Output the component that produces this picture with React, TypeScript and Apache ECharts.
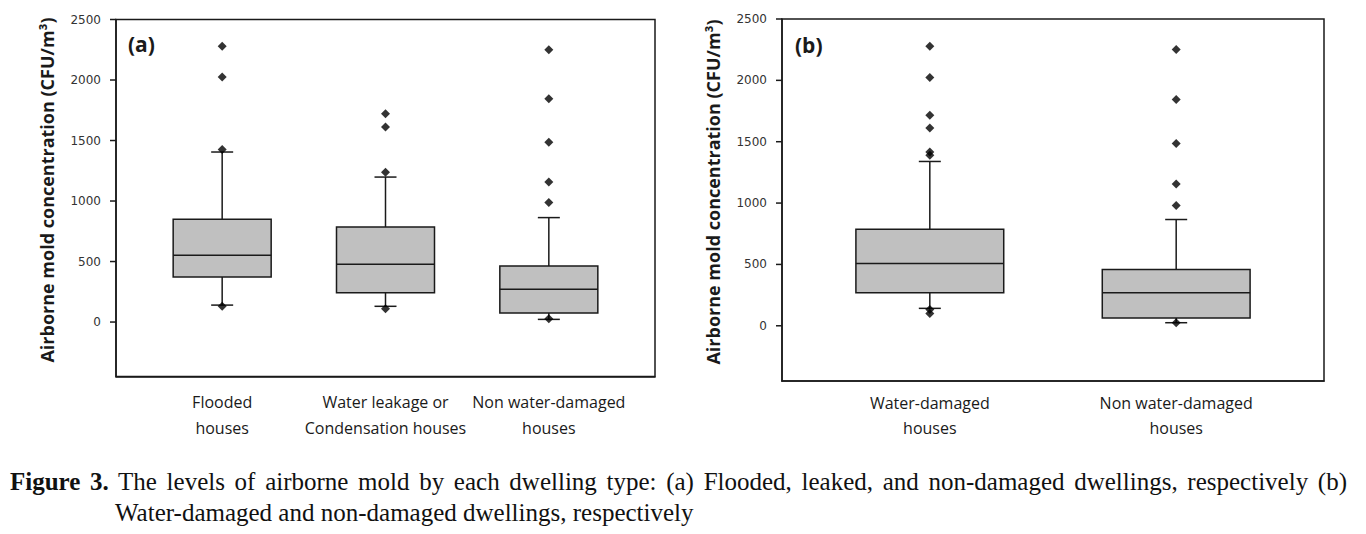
import React, { useEffect, useRef } from "react";
import * as echarts from "echarts";

// ---- Panel (a) ----
const CAT_A = ["Flooded\nhouses", "Water leakage or\nCondensation houses", "Non water-damaged\nhouses"];
const LOW_A = [140, 130, 22];
const Q1_A = [372, 243, 74];
const MED_A = [551, 477, 270];
const Q3_A = [849, 785, 463];
const HIGH_A = [1405, 1198, 863];
const OUT_A = [
  [2278, 2025, 1425, 130],
  [1722, 1612, 1237, 110],
  [2251, 1846, 1485, 1157, 987, 28],
];

// ---- Panel (b) ----
const CAT_B = ["Water-damaged\nhouses", "Non water-damaged\nhouses"];
const LOW_B = [142, 25];
const Q1_B = [269, 63];
const MED_B = [508, 269];
const Q3_B = [787, 459];
const HIGH_B = [1339, 866];
const OUT_B = [
  [2278, 2023, 1716, 1612, 1417, 1390, 133, 101],
  [2251, 1844, 1485, 1156, 980, 25],
];

const Y_TICKS = [0, 500, 1000, 1500, 2000, 2500];
const Y_NAME = "Airborne mold concentration (CFU/m³)";
const CAPTION_BOLD = "Figure 3.";
const CAPTION_TEXT =
  "The levels of airborne mold by each dwelling type: (a) Flooded, leaked, and non-damaged dwellings, respectively (b) Water-damaged and non-damaged dwellings, respectively";

const BOX_W = 0.6;
const CAP_PX = 11;
const TICK_PX = 6;
const INK = "#1a1a1a";

function boxData(lo: number[], q1: number[], md: number[], q3: number[], hi: number[]) {
  return lo.map((_, i) => [i, lo[i], q1[i], md[i], q3[i], hi[i]]);
}
function outData(out: number[][]) {
  const r: number[][] = [];
  out.forEach((vals, i) => vals.forEach((v) => r.push([i, v])));
  return r;
}

const renderBox = (params: any, api: any) => {
  const x = api.value(0);
  const cx = api.coord([x, 0])[0];
  const half = api.coord([x + BOX_W / 2, 0])[0] - cx;
  const yLo = api.coord([x, api.value(1)])[1];
  const yQ1 = api.coord([x, api.value(2)])[1];
  const yMd = api.coord([x, api.value(3)])[1];
  const yQ3 = api.coord([x, api.value(4)])[1];
  const yHi = api.coord([x, api.value(5)])[1];
  const ls = { stroke: INK, lineWidth: 1.5 };
  return {
    type: "group",
    children: [
      { type: "line", shape: { x1: cx, y1: yQ3, x2: cx, y2: yHi }, style: ls },
      { type: "line", shape: { x1: cx - CAP_PX, y1: yHi, x2: cx + CAP_PX, y2: yHi }, style: ls },
      { type: "line", shape: { x1: cx, y1: yQ1, x2: cx, y2: yLo }, style: ls },
      { type: "line", shape: { x1: cx - CAP_PX, y1: yLo, x2: cx + CAP_PX, y2: yLo }, style: ls },
      {
        type: "rect",
        shape: { x: cx - half, y: yQ3, width: half * 2, height: yQ1 - yQ3 },
        style: { fill: "#c0c0c0", stroke: INK, lineWidth: 1.5 },
      },
      { type: "line", shape: { x1: cx - half, y1: yMd, x2: cx + half, y2: yMd }, style: ls },
    ],
  };
};

// y-axis tick marks drawn outside the frame, at the values of Y_TICKS
const renderTick = (params: any, api: any) => {
  const left = params.coordSys.x;
  const y = api.coord([0, api.value(1)])[1];
  return {
    type: "line",
    shape: { x1: left - TICK_PX, y1: y, x2: left, y2: y },
    style: { stroke: INK, lineWidth: 1.5 },
  };
};

function yAxis(gridIndex: number) {
  return {
    type: "value",
    gridIndex,
    min: -450,
    max: 2500,
    name: Y_NAME,
    nameLocation: "middle",
    nameRotate: 90,
    nameGap: 60,
    nameTextStyle: { fontFamily: "Open Sans", fontWeight: "bold", fontSize: 18, color: INK, padding: [0, 0, 0, 16] },
    axisLine: { show: true, onZero: false, lineStyle: { color: INK, width: 1.5 } },
    axisTick: { show: false },
    axisLabel: {
      customValues: Y_TICKS,
      formatter: (v: number) => String(v),
      margin: 15,
      fontFamily: "DejaVu Sans",
      fontSize: 12,
      color: "#333",
    },
    splitLine: { show: false },
  };
}

function xAxis(gridIndex: number, cats: string[], min: number, max: number, margin: number) {
  return {
    type: "value",
    gridIndex,
    min,
    max,
    axisLine: { show: true, onZero: false, lineStyle: { color: INK, width: 1.5 } },
    axisTick: { show: false },
    splitLine: { show: false },
    axisLabel: {
      customValues: cats.map((_, i) => i),
      formatter: (v: number) => cats[Math.round(v)] ?? "",
      margin,
      fontFamily: "Open Sans",
      fontSize: 16,
      lineHeight: 25.5,
      color: INK,
    },
  };
}

function panelSeries(idx: number, box: number[][], out: number[][]) {
  return [
    {
      type: "custom",
      xAxisIndex: idx,
      yAxisIndex: idx,
      renderItem: renderTick,
      encode: { x: 0, y: 1 },
      data: Y_TICKS.map((v) => [0, v]),
      clip: false,
      silent: true,
      z: 4,
    },
    {
      type: "custom",
      xAxisIndex: idx,
      yAxisIndex: idx,
      renderItem: renderBox,
      encode: { x: 0, y: [1, 2, 3, 4, 5] },
      data: box,
      z: 2,
    },
    {
      type: "scatter",
      xAxisIndex: idx,
      yAxisIndex: idx,
      symbol: "diamond",
      symbolSize: 9,
      itemStyle: { color: "#000" },
      data: out,
      z: 3,
    },
  ];
}

export default function App() {
  const ref = useRef<HTMLDivElement>(null);
  useEffect(() => {
    if (!ref.current) return;
    const chart = echarts.init(ref.current, null, { renderer: "svg" });
    const gridStyle = { show: true, borderColor: INK, borderWidth: 1.5, backgroundColor: "transparent" };
    chart.setOption({
      animation: false,
      grid: [
        { left: 116, top: 19.5, width: 539, height: 357, ...gridStyle },
        { left: 782, top: 19, width: 542, height: 362, ...gridStyle },
      ],
      xAxis: [xAxis(0, CAT_A, -0.65, 2.65, 13), xAxis(1, CAT_B, -0.6, 1.6, 9)],
      yAxis: [yAxis(0), yAxis(1)],
      series: [
        ...panelSeries(0, boxData(LOW_A, Q1_A, MED_A, Q3_A, HIGH_A), outData(OUT_A)),
        ...panelSeries(1, boxData(LOW_B, Q1_B, MED_B, Q3_B, HIGH_B), outData(OUT_B)),
      ],
      graphic: [
        {
          type: "text",
          left: 128,
          top: 33,
          style: { text: "(a)", font: "bold 21px 'Open Sans'", fill: INK },
        },
        {
          type: "text",
          left: 795,
          top: 34,
          style: { text: "(b)", font: "bold 21px 'Open Sans'", fill: INK },
        },
      ],
    });
    return () => chart.dispose();
  }, []);

  return (
    <div style={{ position: "absolute", left: 0, top: 0, width: 1366, height: 534, background: "#fff" }}>
      <div ref={ref} style={{ position: "absolute", left: 0, top: 0, width: 1366, height: 534 }} />
      <div
        style={{
          position: "absolute",
          left: 10,
          top: 466,
          width: 1337,
          paddingLeft: 105,
          textIndent: -105,
          boxSizing: "border-box",
          textAlign: "justify",
          fontFamily: "'Liberation Serif', 'Times New Roman', serif",
          fontSize: 25,
          lineHeight: "31px",
          color: "#111",
        }}
      >
        <b>{CAPTION_BOLD}</b> {CAPTION_TEXT}
      </div>
    </div>
  );
}
